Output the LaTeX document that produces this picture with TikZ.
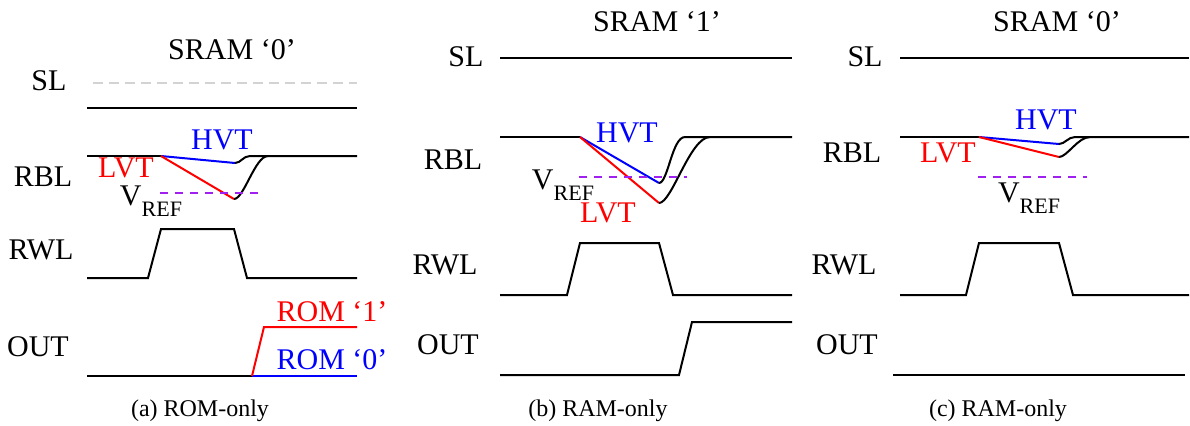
\documentclass[tikz,border=0pt]{standalone}
\usepackage{fontspec}
\setmainfont{Liberation Serif}
\usepackage{xcolor}
\definecolor{SigRed}{HTML}{FF0000}
\definecolor{SigBlue}{HTML}{0000FF}
\definecolor{RefPurple}{HTML}{A020F0}
\definecolor{FaintGray}{HTML}{D3D3D3}
\newcommand{\vrefsym}{V\raisebox{-5.5pt}{\fontsize{11}{13}\selectfont REF}}
\tikzset{
  lbl/.style={font=\fontsize{15}{18}\selectfont, inner sep=0pt},
  captext/.style={font=\fontsize{12}{14}\selectfont, inner sep=0pt},
  wave/.style={line width=1pt, draw=black},
  lvtwave/.style={line width=1pt, draw=SigRed},
  hvtwave/.style={line width=1pt, draw=SigBlue},
  refline/.style={line width=1pt, draw=RefPurple, dash pattern=on 4pt off 3.5pt},
  ghostline/.style={line width=1pt, draw=FaintGray, dash pattern=on 5pt off 3pt}
}
\begin{document}
\begin{tikzpicture}[x=0.5pt, y=-0.5pt]
\useasboundingbox (0,0) rectangle (1190,425);
% (a) ROM-only
\node[lbl] (titleA) at (232,50) {SRAM `0'};
\node[lbl] (slA) at (49,81) {SL};
\node[lbl] (rblA) at (43,177) {RBL};
\node[lbl] (rwlA) at (41,250) {RWL};
\node[lbl] (outA) at (38,347) {OUT};
\node[lbl, text=SigBlue] (hvtA) at (222,140) {HVT};
\node[lbl, text=SigRed] (lvtA) at (126,168) {LVT};
\node[lbl] (vrefA) at (151,201) {\vrefsym};
\node[lbl, text=SigRed] (rom1A) at (332,312) {ROM `1'};
\node[lbl, text=SigBlue] (rom0A) at (332,360) {ROM `0'};
\node[captext] (capA) at (200,411) {(a) ROM-only};
\draw[ghostline] (93,83) -- (357,83);
\draw[wave] (87,108) -- (357,108);
\draw[wave] (87,156) -- (161,156);
\draw[hvtwave] (161,156) -- (235,163);
\draw[lvtwave] (161,156) -- (234,199);
\draw[wave] (235,163) .. controls (241,163) and (243,156) .. (250,156) -- (357,156);
\draw[wave] (234,199) .. controls (244,199) and (255,156) .. (268,156);
\draw[refline] (160,193) -- (260,193);
\draw[wave] (87,278) -- (148,278) -- (161,229) -- (234,229) -- (247,278) -- (357,278);
\draw[wave] (87,376) -- (252,376);
\draw[hvtwave] (252,376) -- (357,376);
\draw[lvtwave] (252,376) -- (264,327) -- (357,327);
% (b) RAM-only, SRAM 1
\node[lbl] (titleB) at (657,22) {SRAM `1'};
\node[lbl] (slB) at (466,57) {SL};
\node[lbl] (rblB) at (453,160) {RBL};
\node[lbl] (rwlB) at (445,265) {RWL};
\node[lbl] (outB) at (448,345) {OUT};
\node[lbl, text=SigBlue] (hvtB) at (627,133) {HVT};
\node[lbl, text=SigRed] (lvtB) at (608,213) {LVT};
\node[lbl] (vrefB) at (563,185) {\vrefsym};
\node[captext] (capB) at (598,411) {(b) RAM-only};
\draw[wave] (500,58) -- (792,58);
\draw[wave] (500,137) -- (580,137);
\draw[hvtwave] (580,137) -- (659,183);
\draw[lvtwave] (580,137) -- (659,203);
\draw[wave] (659,183) .. controls (668,183) and (672,137) .. (685,137) -- (792,137);
\draw[wave] (659,203) .. controls (672,203) and (690,137) .. (710,137);
\draw[refline] (579,177) -- (687,177);
\draw[wave] (500,295) -- (567,295) -- (580,243) -- (659,243) -- (673,295) -- (792,295);
\draw[wave] (500,375) -- (679,375) -- (692,322) -- (792,322);
% (c) RAM-only, SRAM 0
\node[lbl] (titleC) at (1057,22) {SRAM `0'};
\node[lbl] (slC) at (865,57) {SL};
\node[lbl] (rblC) at (852,153) {RBL};
\node[lbl] (rwlC) at (844,265) {RWL};
\node[lbl] (outC) at (847,345) {OUT};
\node[lbl, text=SigBlue] (hvtC) at (1046,120) {HVT};
\node[lbl, text=SigRed] (lvtC) at (948,153) {LVT};
\node[lbl] (vrefC) at (1029,198) {\vrefsym};
\node[captext] (capC) at (998,411) {(c) RAM-only};
\draw[wave] (900,58) -- (1189,58);
\draw[wave] (900,137) -- (979,137);
\draw[hvtwave] (979,137) -- (1059,144);
\draw[lvtwave] (979,137) -- (1059,157);
\draw[wave] (1059,144) .. controls (1065,144) and (1068,137) .. (1075,137) -- (1189,137);
\draw[wave] (1059,157) .. controls (1067,157) and (1078,137) .. (1090,137);
\draw[refline] (978,177) -- (1087,177);
\draw[wave] (900,295) -- (966,295) -- (979,243) -- (1059,243) -- (1073,295) -- (1189,295);
\draw[wave] (893,375) -- (1185,375);
\end{tikzpicture}
\end{document}
